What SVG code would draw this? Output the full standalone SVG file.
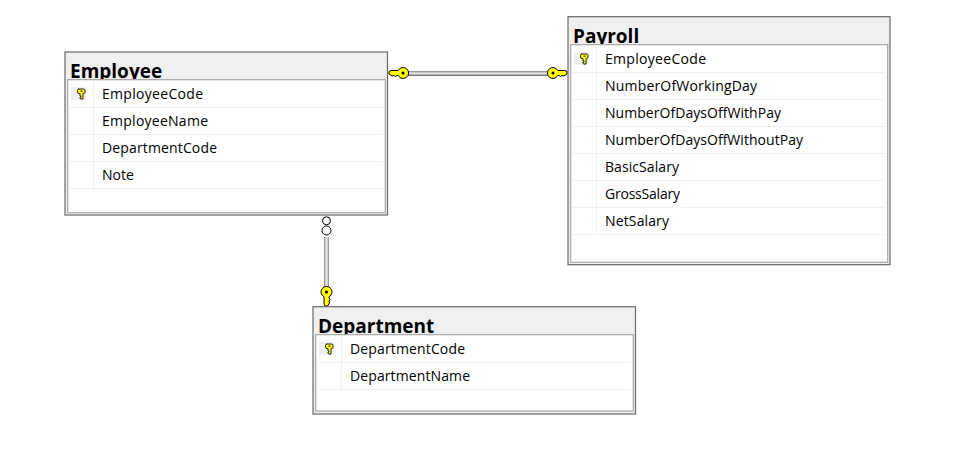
<svg xmlns="http://www.w3.org/2000/svg" width="960" height="472" viewBox="0 0 960 472">
<style>
text{font-family:"Open Sans","Noto Sans","Liberation Sans",sans-serif;fill:#000}
.t{font-weight:700;font-size:19px}
.c{font-size:14px}
.o{fill:#f0f0f0;stroke:#696969;stroke-width:1.2}
.i{fill:#fff;stroke:#a0a0a0;stroke-width:1.1}
.r{stroke:#f0f0f0;stroke-width:1;fill:none}
.kb{fill:#f0f0f0}
.l1{stroke:#9a9a9a;stroke-width:1.4;fill:none}
.l1b{stroke:#777;stroke-width:1.4;fill:none}
.l2{stroke:#e4e4e4;stroke-width:2;fill:none}
.k{fill:#ffff00;stroke:#000;stroke-width:1}
.e{fill:#fff;stroke:#000;stroke-width:1}
</style>
<defs>
<g id="pk"><rect class="kb" x="-9" y="-6.500" width="15" height="13"/><path d="M-1.500 -4.500h5q1.500 0 1.500 1.500v1.500q0 1.500 -1.500 1.500h-.5v5.500h-2.500l-.5 -1v-1h1v-1h-1v-2.500h-1q-1.500 0 -1.500 -1.500v-1.500q0 -1.500 1.500 -1.500z" fill="#ffff00" stroke="#222" stroke-width="1"/><rect x="0.500" y="-3" width="2" height="1.200" fill="#222"/></g>
<g id="key"><path class="k" d="M-6 -1.500L-4 -2.500H3.200A5.500 5.500 0 1 1 3.200 2.500H2L0.500 3.500L-1 2.500L-3 3L-6 1Z"/><circle cx="8" cy="0" r="1.500" fill="#000"/></g>
<clipPath id="c1"><rect x="66" y="53" width="320" height="26"/></clipPath>
<clipPath id="c2"><rect x="569" y="17" width="320" height="27"/></clipPath>
<clipPath id="c3"><rect x="314" y="308" width="320" height="26"/></clipPath>
</defs>
<rect width="960" height="472" fill="#fff"/>
<g id="connectors">
<path class="l2" d="M408 73.500H548"/><path class="l1" d="M408 71.700H548"/><path class="l1b" d="M408 75.300H548"/>
<use href="#key" transform="translate(395,73)"/>
<use href="#key" transform="translate(561,73) scale(-1,1)"/>
<path class="l2" d="M326.500 237V288"/><path class="l1" d="M324.700 237V288"/><path class="l1" d="M328.300 237V288"/>
<circle class="e" cx="326.500" cy="220.800" r="4"/><circle class="e" cx="326.500" cy="230.500" r="4.500"/>
<use href="#key" transform="translate(326.500,300) rotate(-90)"/>
</g>
<g id="employee">
<rect class="o" x="65" y="52" width="322.500" height="163"/>
<text class="t" x="70" y="78" clip-path="url(#c1)">Employee</text>
<rect class="i" x="67.700" y="79.700" width="317.600" height="133"/>
<path class="r" d="M68.500 107.500H382M68.500 134.500H382M68.500 161.500H382M68.500 188.500H382M93.500 80.500V188"/>
<use href="#pk" transform="translate(80,93.500)"/>
<text class="c" x="102" y="99" textLength="101">EmployeeCode</text>
<text class="c" x="102" y="126" textLength="106">EmployeeName</text>
<text class="c" x="102" y="153" textLength="115">DepartmentCode</text>
<text class="c" x="102" y="180">Note</text>
</g>
<g id="payroll">
<rect class="o" x="568" y="16.700" width="322" height="248"/>
<text class="t" x="573" y="43" clip-path="url(#c2)">Payroll</text>
<rect class="i" x="570.700" y="44.700" width="317" height="217.600"/>
<path class="r" d="M571.500 72.500H885M571.500 99.500H885M571.500 126.500H885M571.500 153.500H885M571.500 180.500H885M571.500 207.500H885M571.500 234.500H885M596.500 45.500V234"/>
<use href="#pk" transform="translate(583,58.500)"/>
<text class="c" x="605" y="64" textLength="101">EmployeeCode</text>
<text class="c" x="605" y="91" textLength="152">NumberOfWorkingDay</text>
<text class="c" x="605" y="118" textLength="176">NumberOfDaysOffWithPay</text>
<text class="c" x="605" y="145" textLength="198">NumberOfDaysOffWithoutPay</text>
<text class="c" x="605" y="172" textLength="74">BasicSalary</text>
<text class="c" x="605" y="199" textLength="75">GrossSalary</text>
<text class="c" x="605" y="226" textLength="64">NetSalary</text>
</g>
<g id="department">
<rect class="o" x="313" y="306.700" width="322.500" height="107.300"/>
<text class="t" x="318" y="333" clip-path="url(#c3)">Department</text>
<rect class="i" x="315.700" y="334.700" width="317.600" height="76.300"/>
<path class="r" d="M316.500 362.500H630M316.500 389.500H630M341.500 335.500V389"/>
<use href="#pk" transform="translate(328,348.500)"/>
<text class="c" x="350" y="354" textLength="115">DepartmentCode</text>
<text class="c" x="350" y="381" textLength="120">DepartmentName</text>
</g>
</svg>
